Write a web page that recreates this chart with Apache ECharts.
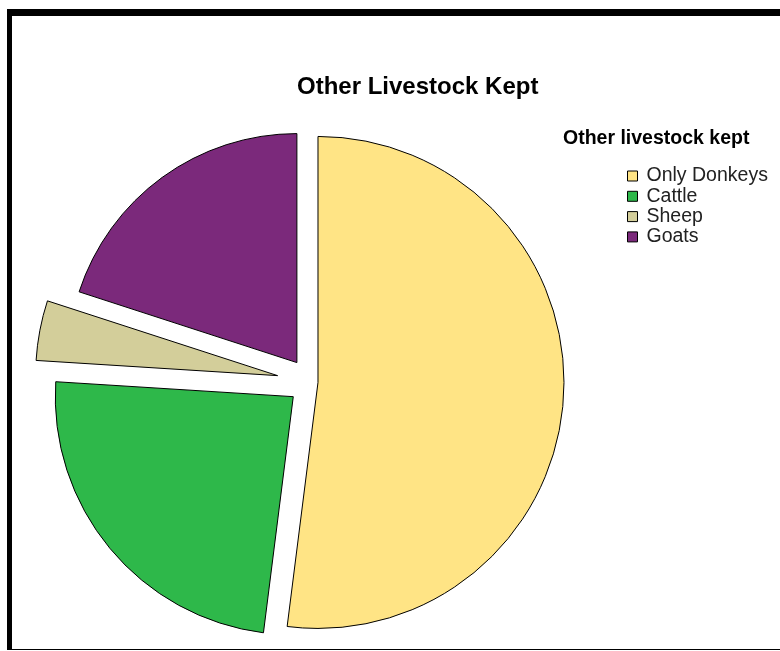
<!DOCTYPE html>
<html>
<head>
<meta charset="utf-8">
<title>Other Livestock Kept</title>
<script src="https://cdn.jsdelivr.net/npm/echarts@6/dist/echarts.min.js"></script>
<style>
  body { margin: 0; background: #fff; }
  #main { position: absolute; left: 0; top: 0; width: 780px; height: 651px; }
  #frame {
    position: absolute; left: 7px; top: 9px; width: 773px; height: 641px;
    box-sizing: border-box; pointer-events: none;
    border-top: 7px solid #000; border-left: 5px solid #000; border-bottom: 1px solid #000;
  }
</style>
</head>
<body>
<div id="main"></div>
<div id="frame"></div>
<script>
// data
var categories = ['Only Donkeys', 'Cattle', 'Sheep', 'Goats'];
var values = [52, 24, 4, 20];

// look of each slice
var colors = ['#FFE485', '#2EB84A', '#D3CE9A', '#7B297B'];
var offsets = [7, 23, 34, 24];
var radii = [246, 238, 242, 229];

var FONT = 'Liberation Sans, Arial, sans-serif';
var myChart = echarts.init(document.getElementById('main'));

// one series per slice so every slice can be pulled out by its own amount
var series = categories.map(function (name, i) {
    return {
        name: 'Other livestock kept',
        type: 'pie',
        center: [311, 382],
        radius: radii[i],
        startAngle: 90,
        clockwise: true,
        selectedMode: 'multiple',
        selectedOffset: offsets[i],
        silent: true,
        label: { show: false },
        labelLine: { show: false },
        emphasis: { disabled: true },
        data: categories.map(function (c, j) {
            return {
                name: c,
                value: values[j],
                selected: i === j,
                itemStyle: i === j
                    ? { color: colors[j], borderColor: '#000', borderWidth: 1 }
                    : { color: 'rgba(0,0,0,0)', borderWidth: 0 }
            };
        })
    };
});

var option = {
    animation: false,
    title: [{
        text: 'Other Livestock Kept',
        left: 297,
        top: 75,
        padding: 0,
        textStyle: { fontFamily: FONT, fontSize: 24, fontWeight: 'bold', color: '#000' }
    }, {
        text: 'Other livestock kept',
        left: 563,
        top: 129,
        padding: 0,
        textStyle: { fontFamily: FONT, fontSize: 19.5, fontWeight: 'bold', color: '#000' }
    }],
    legend: {
        orient: 'vertical',
        left: 627,
        top: 166,
        padding: 0,
        itemGap: 0.3,
        itemWidth: 10,
        itemHeight: 10,
        icon: 'rect',
        selectedMode: false,
        textStyle: { fontFamily: FONT, fontSize: 19.5, color: '#222', lineHeight: 20, padding: [0, 0, 0, 4] },
        data: categories.map(function (c, j) {
            return { name: c, itemStyle: { color: colors[j], borderColor: '#000', borderWidth: 1, opacity: 1 } };
        })
    },
    series: series
};

myChart.setOption(option);
</script>
</body>
</html>
